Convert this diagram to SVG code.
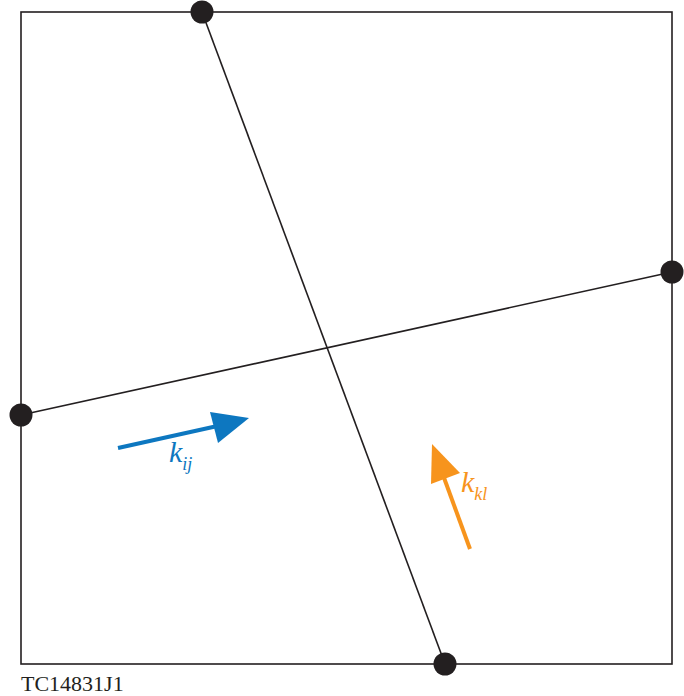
<svg xmlns="http://www.w3.org/2000/svg" width="684" height="696" viewBox="0 0 684 696">
<style>
.frame{fill:none;stroke:#231f20;stroke-width:1.6}
.ln{stroke:#231f20;stroke-width:1.6;fill:none}
.dot{fill:#231f20}
.lbl{font-family:"Liberation Serif",serif;font-style:italic}
.cap{font-family:"Liberation Serif",serif;font-size:22px;fill:#231f20}
</style>
<rect x="0" y="0" width="684" height="696" fill="#ffffff"/>
<rect class="frame" x="21" y="12" width="651" height="652"/>
<g id="connectors">
<line class="ln" x1="202" y1="12" x2="445" y2="664"/>
<line class="ln" x1="21" y1="415" x2="672" y2="272"/>
</g>
<g id="node-top"><circle class="dot" cx="202" cy="12" r="11.5"/></g>
<g id="node-right"><circle class="dot" cx="672" cy="272" r="11.5"/></g>
<g id="node-left"><circle class="dot" cx="21" cy="415" r="11.5"/></g>
<g id="node-bottom"><circle class="dot" cx="445" cy="664" r="11.5"/></g>
<g id="arrow-kij">
<line x1="118" y1="448" x2="222" y2="425" stroke="#0d77c0" stroke-width="4"/>
<polygon points="249,418 210,412 218,443" fill="#0d77c0"/>
<text class="lbl" x="169" y="462" font-size="30" fill="#0d77c0">k<tspan font-size="18" dy="8">ij</tspan></text>
</g>
<g id="arrow-kkl">
<line x1="470" y1="549" x2="443" y2="475" stroke="#f7941d" stroke-width="4"/>
<polygon points="432,444 431,484 460,473" fill="#f7941d"/>
<text class="lbl" x="461" y="492" font-size="30" fill="#f7941d">k<tspan font-size="18" dy="8">kl</tspan></text>
</g>
<text class="cap" x="21" y="691">TC14831J1</text>
</svg>
